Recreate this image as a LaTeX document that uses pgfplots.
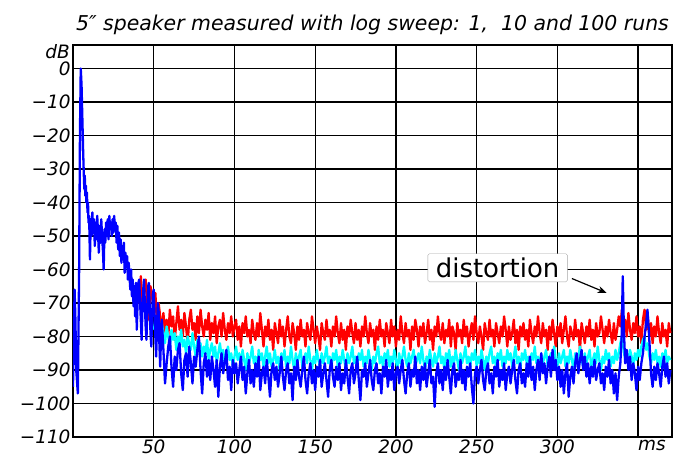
\documentclass[border=0pt]{standalone}
\usepackage{fontspec}
\setmainfont{DejaVu Sans}[ItalicFont={DejaVu Sans Oblique}]
\usepackage{pgfplots}
\pgfplotsset{compat=1.18}
\usetikzlibrary{arrows.meta}
\definecolor{runred}{RGB}{255,0,0}
\definecolor{runcyan}{RGB}{0,255,255}
\definecolor{runblue}{RGB}{0,0,255}

\begin{document}
\begin{tikzpicture}
\begin{axis}[
  name=ax,
  scale only axis,
  width=599bp, height=392bp,
  xmin=0, xmax=371, ymin=-110, ymax=7,
  xtick={50,100,...,350},
  xticklabels={50,100,150,200,250,300,{}},
  ytick={-110,-100,...,0},
  yticklabels={−110,−100,−90,−80,−70,−60,−50,−40,−30,−20,−10,0},
  major tick length=0pt,
  tick label style={font=\itshape\fontsize{18.5}{18.5}\selectfont},
  yticklabel style={xshift=1bp},
  xticklabel style={yshift=1bp},
  grid=major,
  major grid style={black, line width=1.25bp},
  axis line style={black, line width=1.7bp},
  title={5″ speaker measured with log sweep: 1,\ \ 10 and 100 runs},
  title style={font=\itshape\fontsize{20.5}{20.5}\selectfont, yshift=1bp},
  clip=true,
  every axis plot/.append style={line width=2.3bp, line join=round},
]
% red: 1 run
\addplot[runred] coordinates {
(40,-64) (41,-70) (42,-62) (43,-72) (44,-66) (45,-63) (46,-70) (47,-75) (48,-65) (49,-68)
(50,-72) (51,-67) (52,-76) (53,-70) (54,-74) (55,-78) (56,-73) (57,-79) (58,-75) (59,-80)
(60,-72) (61,-77) (62,-74) (63,-81) (64,-76) (65,-71) (66,-78) (67,-75) (68,-80) (69,-73)
(70,-77) (71,-82) (72,-75) (73,-72) (74,-78) (75,-76) (76,-81) (77,-74) (78,-79) (79,-72)
(80,-77) (81,-80) (82,-75) (83,-78) (84,-73) (85,-81) (86,-76) (87,-79) (88,-74) (89,-82)
(90,-77) (91,-75) (92,-80) (93,-73) (94,-78) (95,-81) (96,-76) (97,-79) (98,-74) (99,-80)
(100,-77) (101,-75) (102,-81) (103,-77) (104,-83) (105,-76) (106,-79) (107,-74) (108,-80) (109,-78)
(110,-82) (111,-75) (112,-79) (113,-81) (114,-76) (115,-80) (116,-73) (117,-78) (118,-83) (119,-77)
(120,-80) (121,-75) (122,-81) (123,-78) (124,-84) (125,-76) (126,-79) (127,-82) (128,-75) (129,-80)
(130,-77) (131,-83) (132,-78) (133,-74) (134,-80) (135,-82) (136,-76) (137,-79) (138,-84) (139,-77)
(140,-81) (141,-75) (142,-80) (143,-78) (144,-83) (145,-76) (146,-79) (147,-81) (148,-74) (149,-78)
(150,-82) (151,-77) (152,-80) (153,-84) (154,-76) (155,-79) (156,-81) (157,-75) (158,-80) (159,-78)
(160,-83) (161,-77) (162,-80) (163,-74) (164,-79) (165,-82) (166,-76) (167,-81) (168,-78) (169,-84)
(170,-77) (171,-80) (172,-75) (173,-79) (174,-82) (175,-76) (176,-81) (177,-78) (178,-83) (179,-77)
(180,-80) (181,-74) (182,-79) (183,-82) (184,-76) (185,-80) (186,-78) (187,-84) (188,-77) (189,-81)
(190,-75) (191,-80) (192,-78) (193,-83) (194,-76) (195,-79) (196,-82) (197,-75) (198,-80) (199,-77)
(200,-83) (201,-78) (202,-81) (203,-74) (204,-79) (205,-82) (206,-76) (207,-80) (208,-78) (209,-84)
(210,-77) (211,-81) (212,-75) (213,-78) (214,-83) (215,-77) (216,-80) (217,-76) (218,-82) (219,-79)
(220,-75) (221,-81) (222,-78) (223,-84) (224,-77) (225,-80) (226,-74) (227,-79) (228,-81) (229,-76)
(230,-82) (231,-78) (232,-80) (233,-75) (234,-83) (235,-77) (236,-79) (237,-84) (238,-76) (239,-80)
(240,-78) (241,-82) (242,-75) (243,-80) (244,-77) (245,-83) (246,-79) (247,-76) (248,-81) (249,-74)
(250,-79) (251,-82) (252,-77) (253,-80) (254,-84) (255,-76) (256,-79) (257,-81) (258,-75) (259,-80)
(260,-78) (261,-83) (262,-76) (263,-79) (264,-82) (265,-77) (266,-80) (267,-74) (268,-78) (269,-83)
(270,-77) (271,-81) (272,-79) (273,-75) (274,-82) (275,-78) (276,-84) (277,-77) (278,-80) (279,-76)
(280,-81) (281,-78) (282,-83) (283,-75) (284,-79) (285,-82) (286,-77) (287,-80) (288,-74) (289,-79)
(290,-82) (291,-76) (292,-80) (293,-78) (294,-84) (295,-77) (296,-81) (297,-75) (298,-79) (299,-83)
(300,-77) (301,-80) (302,-76) (303,-82) (304,-78) (305,-74) (306,-80) (307,-83) (308,-77) (309,-79)
(310,-81) (311,-75) (312,-80) (313,-78) (314,-84) (315,-76) (316,-79) (317,-82) (318,-77) (319,-80)
(320,-75) (321,-81) (322,-78) (323,-83) (324,-76) (325,-80) (326,-79) (327,-74) (328,-78) (329,-82)
(330,-77) (331,-80) (332,-75) (333,-79) (334,-82) (335,-76) (336,-81) (337,-78) (338,-74) (339,-77)
(340,-72) (341,-79) (342,-75) (343,-80) (344,-73) (345,-78) (346,-81) (347,-76) (348,-79) (349,-74)
(350,-80) (351,-77) (352,-82) (353,-75) (354,-72) (355,-78) (356,-74) (357,-80) (358,-76) (359,-82)
(360,-77) (361,-80) (362,-74) (363,-79) (364,-82) (365,-76) (366,-80) (367,-78) (368,-83) (369,-76)
(370,-79)
};
% cyan: 10 runs
\addplot[runcyan] coordinates {
(50,-78) (51,-75) (52,-80) (53,-77) (54,-81) (55,-76) (56,-79) (57,-82) (58,-77) (59,-80)
(60,-83) (61,-78) (62,-81) (63,-79) (64,-84) (65,-80) (66,-82) (67,-78) (68,-83) (69,-81)
(70,-85) (71,-80) (72,-82) (73,-84) (74,-79) (75,-83) (76,-86) (77,-81) (78,-84) (79,-82)
(80,-86) (81,-83) (82,-85) (83,-81) (84,-87) (85,-84) (86,-82) (87,-86) (88,-83) (89,-88)
(90,-85) (91,-82) (92,-86) (93,-84) (94,-88) (95,-85) (96,-83) (97,-87) (98,-85) (99,-89)
(100,-86) (101,-83) (102,-87) (103,-85) (104,-89) (105,-84) (106,-87) (107,-90) (108,-85) (109,-88)
(110,-86) (111,-83) (112,-88) (113,-86) (114,-90) (115,-84) (116,-87) (117,-85) (118,-89) (119,-86)
(120,-83) (121,-88) (122,-85) (123,-89) (124,-87) (125,-84) (126,-88) (127,-86) (128,-90) (129,-85)
(130,-87) (131,-84) (132,-89) (133,-86) (134,-88) (135,-83) (136,-87) (137,-90) (138,-85) (139,-88)
(140,-86) (141,-84) (142,-89) (143,-87) (144,-85) (145,-88) (146,-83) (147,-87) (148,-90) (149,-86)
(150,-88) (151,-84) (152,-87) (153,-89) (154,-85) (155,-88) (156,-86) (157,-83) (158,-88) (159,-86)
(160,-90) (161,-85) (162,-87) (163,-84) (164,-89) (165,-86) (166,-88) (167,-84) (168,-87) (169,-90)
(170,-85) (171,-88) (172,-86) (173,-83) (174,-88) (175,-86) (176,-89) (177,-85) (178,-87) (179,-84)
(180,-89) (181,-86) (182,-88) (183,-84) (184,-87) (185,-90) (186,-86) (187,-88) (188,-85) (189,-83)
(190,-88) (191,-86) (192,-89) (193,-85) (194,-87) (195,-84) (196,-89) (197,-86) (198,-88) (199,-84)
(200,-87) (201,-90) (202,-85) (203,-88) (204,-86) (205,-83) (206,-87) (207,-89) (208,-85) (209,-88)
(210,-86) (211,-84) (212,-89) (213,-87) (214,-85) (215,-88) (216,-83) (217,-87) (218,-90) (219,-86)
(220,-88) (221,-84) (222,-87) (223,-89) (224,-85) (225,-88) (226,-86) (227,-83) (228,-88) (229,-86)
(230,-90) (231,-85) (232,-87) (233,-84) (234,-89) (235,-86) (236,-88) (237,-84) (238,-87) (239,-90)
(240,-85) (241,-88) (242,-86) (243,-83) (244,-88) (245,-86) (246,-89) (247,-85) (248,-87) (249,-84)
(250,-89) (251,-86) (252,-88) (253,-84) (254,-87) (255,-90) (256,-86) (257,-88) (258,-85) (259,-83)
(260,-88) (261,-86) (262,-89) (263,-85) (264,-87) (265,-84) (266,-89) (267,-86) (268,-88) (269,-84)
(270,-87) (271,-85) (272,-89) (273,-86) (274,-83) (275,-88) (276,-86) (277,-90) (278,-85) (279,-87)
(280,-84) (281,-88) (282,-86) (283,-89) (284,-85) (285,-87) (286,-83) (287,-88) (288,-86) (289,-90)
(290,-85) (291,-88) (292,-86) (293,-84) (294,-89) (295,-87) (296,-85) (297,-88) (298,-83) (299,-87)
(300,-89) (301,-85) (302,-88) (303,-86) (304,-84) (305,-89) (306,-86) (307,-88) (308,-84) (309,-87)
(310,-90) (311,-85) (312,-88) (313,-86) (314,-83) (315,-87) (316,-89) (317,-85) (318,-88) (319,-86)
(320,-84) (321,-89) (322,-87) (323,-85) (324,-88) (325,-83) (326,-87) (327,-90) (328,-86) (329,-88)
(330,-84) (331,-87) (332,-85) (333,-89) (334,-86) (335,-88) (336,-84) (337,-87) (338,-85) (339,-82)
(340,-80) (341,-84) (342,-87) (343,-85) (344,-88) (345,-84) (346,-86) (347,-89) (348,-85) (349,-87)
(350,-84) (351,-86) (352,-83) (353,-81) (354,-80) (355,-84) (356,-82) (357,-86) (358,-88) (359,-85)
(360,-87) (361,-84) (362,-88) (363,-86) (364,-89) (365,-85) (366,-87) (367,-84) (368,-88) (369,-86)
(370,-87)
};
% blue: 100 runs
\addplot[runblue] coordinates {
(0,-95) (0.5,-80) (1,-66) (1.5,-75) (2,-90) (3,-97) (3.8,-60) (4.3,-20) (4.8,0) (5.3,-5)
(5.8,-15) (6.3,-25) (6.6,-30) (7,-36) (7.3,-32) (7.6,-38) (8,-35) (8.3,-40) (8.6,-37) (9,-43)
(9.3,-40) (9.6,-46) (10,-44) (10.5,-57) (11,-45) (11.5,-50) (12,-43) (12.5,-49) (13,-45) (13.5,-53)
(14,-46) (14.5,-51) (15,-44) (15.5,-49) (16,-55) (16.5,-47) (17,-52) (17.5,-45) (18,-50) (18.5,-54)
(19,-60) (19.5,-48) (20,-52) (20.5,-46) (21,-50) (21.5,-45) (22,-51) (22.5,-44) (23,-48) (23.5,-46)
(24,-50) (24.5,-45) (25,-49) (25.5,-44) (26,-48) (26.5,-46) (27,-52) (27.5,-47) (28,-54) (28.5,-49)
(29,-56) (29.5,-51) (30,-58) (30.5,-53) (31,-57) (31.5,-52) (32,-61) (32.5,-55) (33,-59) (33.5,-56)
(34,-63) (34.5,-58) (35,-62) (35.5,-66) (36,-60) (36.5,-68) (37,-63) (37.5,-71) (38,-65) (38.5,-74)
(39,-64) (39.5,-78) (40,-70) (40.5,-64) (41,-63) (41.5,-69) (42,-75) (42.5,-81) (43,-72) (43.5,-66)
(44,-63) (44.5,-70) (45,-77) (45.5,-81) (46,-72) (46.5,-65) (47,-64) (47.5,-71) (48,-79) (48.5,-83)
(49,-74) (49.5,-67) (50,-66) (50.5,-73) (51,-80) (51.5,-86) (52,-78) (52.5,-70) (53,-72) (53.5,-82)
(54,-89) (54.5,-80) (55,-75) (56,-84) (57,-94) (58,-88) (59,-83) (60,-80) (61,-89) (62,-95)
(63,-86) (64,-90) (65,-84) (66,-82) (67,-91) (68,-96) (69,-87) (70,-85) (71,-92) (72,-83)
(73,-88) (74,-94) (75,-86) (76,-89) (77,-84) (78,-80) (79,-90) (80,-97) (81,-88) (82,-85)
(83,-92) (84,-87) (85,-93) (86,-86) (87,-90) (88,-95) (89,-87) (90,-98) (91,-89) (92,-85)
(93,-91) (94,-88) (95,-84) (96,-93) (97,-89) (98,-96) (99,-87) (100,-91) (101,-88) (102,-94)
(103,-90) (104,-86) (105,-93) (106,-89) (107,-97) (108,-91) (109,-87) (110,-94) (111,-90) (112,-95)
(113,-88) (114,-92) (115,-86) (116,-96) (117,-91) (118,-89) (119,-94) (120,-87) (121,-92) (122,-98)
(123,-90) (124,-88) (125,-93) (126,-89) (127,-95) (128,-91) (129,-86) (130,-92) (131,-96) (132,-90)
(133,-88) (134,-94) (135,-91) (136,-99) (137,-89) (138,-93) (139,-87) (140,-92) (141,-95) (142,-90)
(143,-86) (144,-93) (145,-97) (146,-91) (147,-88) (148,-94) (149,-90) (150,-96) (151,-89) (152,-92)
(153,-87) (154,-95) (155,-91) (156,-88) (157,-93) (158,-98) (159,-90) (160,-87) (161,-92) (162,-95)
(163,-89) (164,-93) (165,-88) (166,-96) (167,-91) (168,-94) (169,-87) (170,-92) (171,-97) (172,-90)
(173,-88) (174,-94) (175,-91) (176,-86) (177,-93) (178,-99) (179,-90) (180,-92) (181,-88) (182,-95)
(183,-91) (184,-87) (185,-93) (186,-96) (187,-90) (188,-88) (189,-94) (190,-91) (191,-97) (192,-89)
(193,-92) (194,-87) (195,-95) (196,-90) (197,-93) (198,-88) (199,-96) (200,-91) (201,-89) (202,-94)
(203,-90) (204,-87) (205,-93) (206,-97) (207,-91) (208,-88) (209,-95) (210,-90) (211,-92) (212,-86)
(213,-94) (214,-90) (215,-96) (216,-89) (217,-93) (218,-88) (219,-95) (220,-91) (221,-87) (222,-94)
(223,-92) (224,-101) (225,-91) (226,-88) (227,-94) (228,-90) (229,-96) (230,-89) (231,-93) (232,-87)
(233,-92) (234,-97) (235,-90) (236,-88) (237,-95) (238,-91) (239,-93) (240,-87) (241,-94) (242,-90)
(243,-96) (244,-89) (245,-92) (246,-88) (247,-95) (248,-100) (249,-91) (250,-89) (251,-94) (252,-90)
(253,-87) (254,-93) (255,-96) (256,-90) (257,-88) (258,-94) (259,-91) (260,-97) (261,-89) (262,-92)
(263,-87) (264,-95) (265,-90) (266,-93) (267,-88) (268,-96) (269,-91) (270,-89) (271,-94) (272,-90)
(273,-87) (274,-93) (275,-97) (276,-90) (277,-88) (278,-94) (279,-91) (280,-95) (281,-88) (282,-92)
(283,-86) (284,-93) (285,-89) (286,-96) (287,-90) (288,-87) (289,-93) (290,-85) (291,-91) (292,-88)
(293,-94) (294,-89) (295,-86) (296,-92) (297,-84) (298,-90) (299,-87) (300,-93) (301,-89) (302,-95)
(303,-90) (304,-97) (305,-91) (306,-88) (307,-98) (308,-92) (309,-89) (310,-94) (311,-88) (312,-85)
(313,-91) (314,-87) (315,-84) (316,-90) (317,-86) (318,-92) (319,-88) (320,-94) (321,-89) (322,-92)
(323,-87) (324,-93) (325,-90) (326,-88) (327,-94) (328,-91) (329,-96) (330,-89) (331,-92) (332,-87)
(333,-94) (334,-90) (335,-97) (336,-91) (337,-99) (338,-92) (339,-88) (339.8,-80) (340.5,-62) (341.2,-78)
(342,-88) (343,-84) (344,-90) (345,-86) (346,-93) (347,-88) (348,-91) (349,-96) (350,-89) (351,-93)
(352,-88) (353,-85) (354,-80) (355,-76) (355.8,-72) (356.6,-78) (357.5,-86) (358,-91) (359,-95) (360,-89)
(361,-93) (362,-88) (363,-91) (364,-95) (365,-89) (366,-86) (367,-92) (368,-88) (369,-94) (370,-90)
};
\node[draw=black!35, fill=white, rounded corners=1.5bp, inner xsep=8bp, inner ysep=4bp,
      font=\fontsize{26}{26}\selectfont] at (axis cs:263,-59.5) {distortion};
\draw[-{Stealth[length=9bp,width=7bp]}, line width=1.2bp] (axis cs:309,-62.7) -- (axis cs:330.5,-67);
\end{axis}
\node[anchor=north east, inner sep=1bp, font=\itshape\fontsize{18.5}{18.5}\selectfont] at ([xshift=-2bp,yshift=2bp]ax.north west) {dB};
\node[anchor=north, inner sep=0bp, font=\itshape\fontsize{18.5}{18.5}\selectfont] at ([xshift=-20bp,yshift=-3bp]ax.south east) {ms};
\path (ax.south west) ++(-73bp,-18bp);
\path (ax.north east) ++(14bp,45bp);
\end{tikzpicture}
\end{document}
